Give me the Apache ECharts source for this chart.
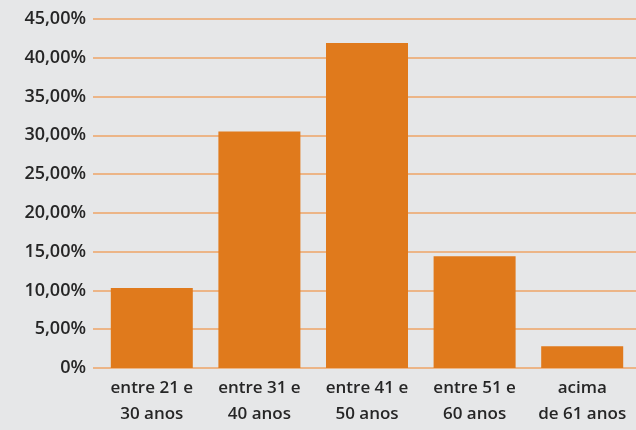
<!DOCTYPE html>
<html><head><meta charset="utf-8">
<script src="https://cdn.jsdelivr.net/npm/echarts@6/dist/echarts.min.js"></script>
<style>html,body{margin:0;padding:0;background:#e6e7e8}#c{width:636px;height:430px}</style>
</head><body><div id="c"></div>
<script>
const categories = ["entre 21 e\n30 anos","entre 31 e\n40 anos","entre 41 e\n50 anos","entre 51 e\n60 anos","acima\nde 61 anos"];
const values = [10.3, 30.5, 41.9, 14.4, 2.8];
const yTicks = [0,5,10,15,20,25,30,35,40,45];

const chart = echarts.init(document.getElementById('c'), null, {renderer:'canvas'});
const font = '"Open Sans", sans-serif';
chart.setOption({
  backgroundColor:'#e6e7e8',
  animation:false,
  grid:[
    {left:93, right:0, top:19, bottom:62},
    {left:98, right:-1, top:19, bottom:62}
  ],
  xAxis:[
    {gridIndex:0, type:'category', data:[''], show:false},
    {gridIndex:1, type:'category', data:categories,
     axisLine:{show:false}, axisTick:{show:false},
     axisLabel:{color:'#262626', fontFamily:font, fontWeight:600, fontSize:17, lineHeight:26, margin:7, interval:0}}
  ],
  yAxis:[
    {gridIndex:0, type:'value', min:yTicks[0], max:yTicks[yTicks.length-1], interval:5,
     axisLine:{show:false}, axisTick:{show:false},
     axisLabel:{color:'#262626', fontFamily:font, fontWeight:600, fontSize:18, margin:7,
       formatter:v=> v===0 ? '0%' : v.toFixed(2).replace('.',',')+'%'},
     splitLine:{show:true, lineStyle:{color:'#eea467', width:1.5}}},
    {gridIndex:1, type:'value', min:0, max:45, interval:5, show:false, splitLine:{show:false}}
  ],
  series:[{
    type:'bar', xAxisIndex:1, yAxisIndex:1, data:values, barWidth:82,
    itemStyle:{color:'#e07a1c'}
  }]
});
</script></body></html>
